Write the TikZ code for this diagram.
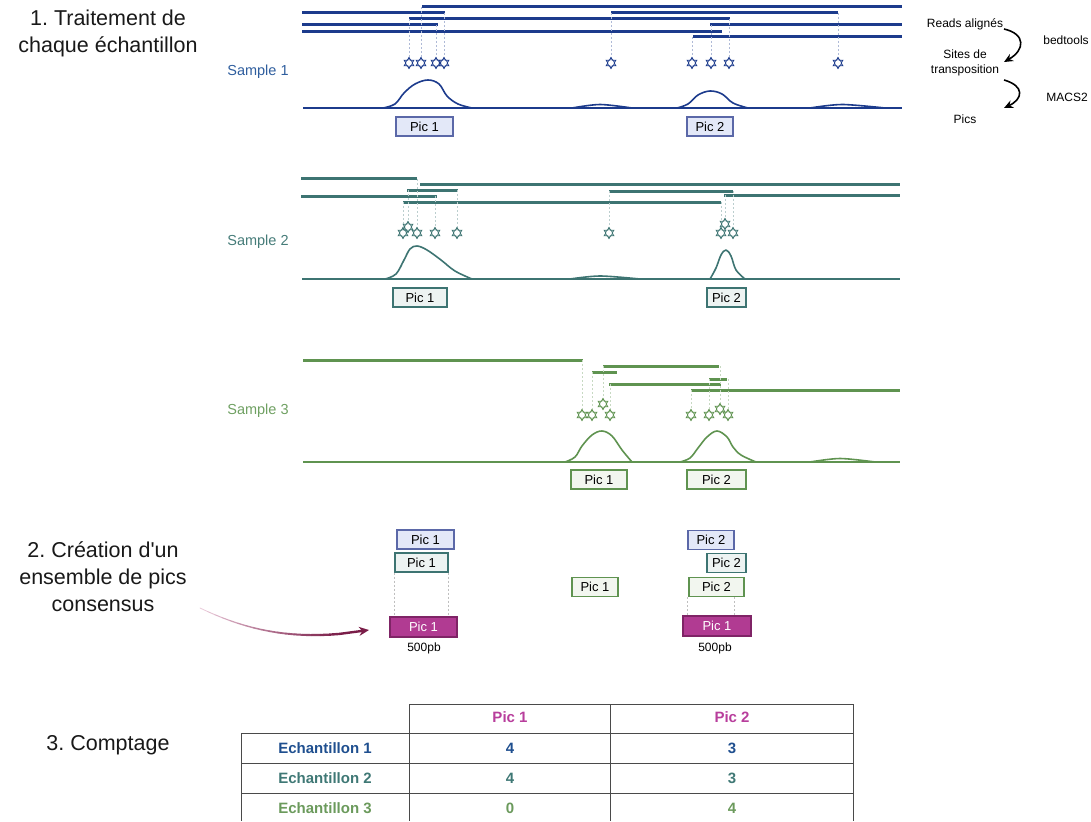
\documentclass[tikz,border=0pt]{standalone}
\usepackage{fontspec}
\setmainfont{Liberation Sans}
\newfontfamily\plainfont{Liberation Sans}
\usetikzlibrary{shapes.geometric,arrows.meta}
\frenchspacing
\definecolor{navy}{HTML}{1C3B8C}
\definecolor{navylab}{HTML}{2F5E9E}
\definecolor{navyfill}{HTML}{E3E8F8}
\definecolor{navyedge}{HTML}{5B68A8}
\definecolor{teal}{HTML}{3D7472}
\definecolor{teallab}{HTML}{467C79}
\definecolor{tealfill}{HTML}{EDF3F2}
\definecolor{leaf}{HTML}{5F9350}
\definecolor{leaflab}{HTML}{6FA062}
\definecolor{leaffill}{HTML}{F2F6EF}
\definecolor{plum}{HTML}{B13B92}
\definecolor{plumedge}{HTML}{7F2466}
\definecolor{wine}{HTML}{7A1D48}
\definecolor{blush}{HTML}{E9C9D9}
\definecolor{tabpic}{HTML}{B83E9C}
\definecolor{tab1}{HTML}{1F4F8F}
\definecolor{tab2}{HTML}{3F7875}
\definecolor{tab3}{HTML}{6B9A5C}
\definecolor{gridgray}{HTML}{4A4A4A}

\begin{document}
\begin{tikzpicture}[x=1pt, y=-1pt,
    readline/.style = {line width=3},
    signal/.style = {line width=1.6, line join=round},
    guideline/.style = {line width=0.6, dash pattern=on 2pt off 2pt},
    tnsite/.style = {star, star points=6, star point ratio=1.75, minimum size=11, inner sep=0, fill=white, line width=0.9, draw},
    peakbox/.style = {draw, line width=1.2, minimum height=19, inner sep=0, font=\fontsize{13}{15}\selectfont},
    title/.style = {align=center, text=black!90, font=\fontsize{21.5}{27}\selectfont},
    samplelab/.style = {font=\fontsize{14.5}{16}\selectfont},
    legend/.style = {align=center, font=\fontsize{12}{15}\selectfont},
    flowarrow/.style = {line width=1.6, -{Stealth[length=9pt,width=8pt]}},
    tabtext/.style = {font=\bfseries\fontsize{15}{17}\selectfont}]
\useasboundingbox (0,0) rectangle (1091,821);

% titles
\node[title] (t1) at (108,33) {1. Traitement de\\chaque échantillon};
\node[title, font=\plainfont\fontsize{21.5}{27}\selectfont] (t2) at (103,577) {2. Création d'un\\ensemble de pics\\consensus};
\node[title] (t3) at (108,745) {3. Comptage};

% legend
\node[legend] (l1) at (965,24) {Reads alignés};
\node[legend] (l2) at (965,63) {Sites de\\transposition};
\node[legend] (l3) at (965,119) {Pics};
\node[legend] (l4) at (1066,40) {bedtools};
\node[legend] (l5) at (1067,97) {MACS2};
\coordinate (fa1) at (1004,29);
\coordinate (fa2) at (1026,34);
\coordinate (fa3) at (1025,50);
\coordinate (fa4) at (1004,62);
\coordinate (fb1) at (1004,80);
\coordinate (fb2) at (1025,86);
\coordinate (fb3) at (1023,99);
\coordinate (fb4) at (1004,108);
\draw[flowarrow] (fa1) .. controls (fa2) and (fa3) .. (fa4);
\draw[flowarrow] (fb1) .. controls (fb2) and (fb3) .. (fb4);

% sample 1
\node[samplelab, text=navylab] (s1) at (258,72) {Sample 1};
\foreach \a/\b/\y in {422/902/7, 302/445/13, 611/838/13, 409/730/19, 302/438/25, 710/902/25, 302/722/32, 693/902/37}
    \draw[readline, navy] (\a,\y) -- (\b,\y);
\foreach \x/\y/\r [count=\i] in {409/63/19, 421/63/7, 436/63/25, 444/63/13, 611/63/13, 692/63/37, 711/63/25, 729/63/19, 838/63/13} {
    \coordinate (ra\i) at (\x,\r);
    \node[tnsite, draw=navy] (sa\i) at (\x,\y) {};
    \draw[guideline, navy!35] (ra\i) -- (sa\i);
    \draw[navy, line width=0.6] (sa\i.inner point 1) \foreach \k in {2,...,6} {-- (sa\i.inner point \k)} -- cycle;
}
\draw[signal, navy] (303,108) -- (902,108);
\draw[signal, navy] plot[smooth, tension=0.6] coordinates {(383,108) (395,104) (404,93) (415,84) (428,80) (439,84) (447,96) (458,104) (472,108)};
\draw[signal, navy] plot[smooth] coordinates {(572,108) (600,104.5) (632,108)};
\draw[signal, navy] plot[smooth, tension=0.6] coordinates {(677,108) (688,104) (698,95) (710,91) (722,94) (733,103) (748,108)};
\draw[signal, navy] plot[smooth] coordinates {(810,108) (842,104.5) (885,108)};
\node[peakbox, fill=navyfill, draw=navyedge, minimum width=57] (p11) at (424.5,126.5) {Pic 1};
\node[peakbox, fill=navyfill, draw=navyedge, minimum width=46] (p12) at (710,126.5) {Pic 2};

% sample 2
\node[samplelab, text=teallab] (s2) at (258,242) {Sample 2};
\foreach \a/\b/\y in {301/417/179, 420/900/184, 407/458/190, 609/733/191, 301/437/196, 724/900/195, 403/721/202}
    \draw[readline, teal] (\a,\y) -- (\b,\y);
\foreach \x/\y/\r [count=\i] in {403/233/202, 408/227/190, 417/233/179, 435/233/196, 457/233/190, 609/233/191, 721/233/202, 725/224/195, 733/233/191} {
    \coordinate (rb\i) at (\x,\r);
    \node[tnsite, draw=teal] (sb\i) at (\x,\y) {};
    \draw[guideline, teal!35] (rb\i) -- (sb\i);
    \draw[teal, line width=0.6] (sb\i.inner point 1) \foreach \k in {2,...,6} {-- (sb\i.inner point \k)} -- cycle;
}
\draw[signal, teal] (302,279) -- (900,279);
\draw[signal, teal] plot[smooth, tension=0.6] coordinates {(385,279) (396,274) (404,260) (410,249) (417,246) (427,250) (441,260) (455,271) (472,279)};
\draw[signal, teal] plot[smooth] coordinates {(570,279) (600,276) (640,279)};
\draw[signal, teal] plot[smooth, tension=0.6] coordinates {(710,279) (716,268) (721,255) (726,250) (731,256) (736,270) (745,279)};
\node[peakbox, fill=tealfill, draw=teal, minimum width=54] (p21) at (420,297.5) {Pic 1};
\node[peakbox, fill=tealfill, draw=teal, minimum width=39] (p22) at (726.5,297.5) {Pic 2};

% sample 3
\node[samplelab, text=leaflab] (s3) at (258,411) {Sample 3};
\foreach \a/\b/\y in {303/583/360, 603/719/366, 592/617/372, 709/727/379, 609/721/384, 691/900/390}
    \draw[readline, leaf] (\a,\y) -- (\b,\y);
\foreach \x/\y/\r [count=\i] in {582/415/360, 592/415/372, 603/404/366, 610/415/384, 691/415/390, 709/415/379, 720/409/366, 728/415/379} {
    \coordinate (rc\i) at (\x,\r);
    \node[tnsite, draw=leaf] (sc\i) at (\x,\y) {};
    \draw[guideline, leaf!35] (rc\i) -- (sc\i);
    \draw[leaf, line width=0.6] (sc\i.inner point 1) \foreach \k in {2,...,6} {-- (sc\i.inner point \k)} -- cycle;
}
\draw[signal, leaf] (303,462) -- (900,462);
\draw[signal, leaf] plot[smooth, tension=0.6] coordinates {(565,462) (575,457) (582,446) (592,435) (602,431) (612,436) (622,450) (632,462)};
\draw[signal, leaf] plot[smooth, tension=0.6] coordinates {(680,462) (690,458) (698,448) (707,437) (717,431) (727,437) (733,447) (741,455) (756,462)};
\draw[signal, leaf] plot[smooth] coordinates {(810,462) (840,458.5) (875,462)};
\node[peakbox, fill=leaffill, draw=leaf, minimum width=56] (p31) at (599,479.5) {Pic 1};
\node[peakbox, fill=leaffill, draw=leaf, minimum width=59] (p32) at (716.5,479.5) {Pic 2};

% consensus
\node[peakbox, fill=navyfill, draw=navyedge, minimum width=57] (b21) at (425.5,539.5) {Pic 1};
\node[peakbox, fill=tealfill, draw=teal, minimum width=53] (t21) at (421.5,562.5) {Pic 1};
\node[peakbox, fill=leaffill, draw=leaf, minimum width=46] (g21) at (595,587) {Pic 1};
\node[peakbox, fill=navyfill, draw=navyedge, minimum width=46] (b22) at (711,540) {Pic 2};
\node[peakbox, fill=tealfill, draw=teal, minimum width=39] (t22) at (726.5,563) {Pic 2};
\node[peakbox, fill=leaffill, draw=leaf, minimum width=55] (g22) at (716.5,587) {Pic 2};
\node[peakbox, fill=plum, draw=plumedge, text=white, minimum width=67, minimum height=20] (c1) at (423.5,627) {Pic 1};
\node[peakbox, fill=plum, draw=plumedge, text=white, minimum width=68, minimum height=20] (c2) at (717,626) {Pic 1};
\node[legend] (w1) at (424,648) {500pb};
\node[legend] (w2) at (715,648) {500pb};
\draw[guideline, black!25] (t21.south west) -- (t21.south west |- c1.north);
\draw[guideline, black!25] (t21.south east) -- (t21.south east |- c1.north);
\draw[guideline, black!25] (b22.west |- g22.south) -- (b22.west |- c2.north);
\draw[guideline, black!25] (b22.east |- g22.south) -- (b22.east |- c2.north);

% arrow to consensus
\coordinate (ca) at (200,608);
\coordinate (cb) at (250,632);
\coordinate (cc) at (300,642);
\coordinate (cd) at (369,630);
\foreach \i [evaluate=\i as \t using \i/20] in {0,...,20}
    \path (ca) .. controls (cb) and (cc) .. (cd) coordinate[pos=\t] (g\i);
\foreach \i [evaluate=\i as \j using int(\i+1), evaluate=\i as \p using int(6*\i), evaluate=\i as \w using 0.8+0.1*\i] in {0,...,16}
    \draw[wine!\p!blush, line cap=round, line width=\w] (g\i) -- (g\j);
\draw[wine, line width=2.4, -{Stealth[length=10pt,width=9pt]}] (g17) -- (g20);

% table
\draw[gridgray, line width=1] (409,704) -- (853,704);
\foreach \y in {733,763,793}
    \draw[gridgray, line width=1] (241,\y) -- (853,\y);
\foreach \x in {409,610,853}
    \draw[gridgray, line width=1] (\x,704) -- (\x,821);
\draw[gridgray, line width=1] (241,733) -- (241,821);
\node[tabtext, text=tabpic] (h1) at (510,717) {Pic 1};
\node[tabtext, text=tabpic] (h2) at (732,717) {Pic 2};
\foreach \lab/\col/\y/\a/\b [count=\i] in {Echantillon 1/tab1/748/4/3, Echantillon 2/tab2/778/4/3, Echantillon 3/tab3/808/0/4} {
    \node[tabtext, text=\col] (row\i) at (325,\y) {\lab};
    \node[tabtext, text=\col] (na\i) at (510,\y) {\a};
    \node[tabtext, text=\col] (nb\i) at (732,\y) {\b};
}
\end{tikzpicture}
\end{document}
